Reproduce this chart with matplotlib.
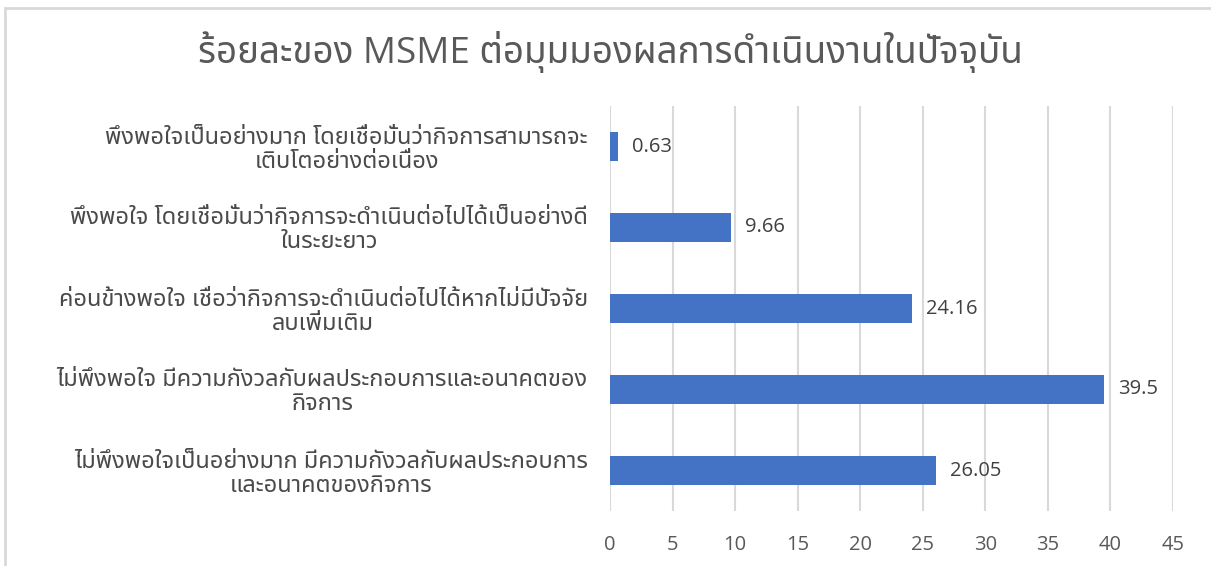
import matplotlib
matplotlib.use("Agg")
import matplotlib.pyplot as plt
from matplotlib.patches import Rectangle
import logging
logging.getLogger("matplotlib.font_manager").setLevel(logging.ERROR)

FONTS = ['Open Sans', 'Noto Sans Thai', 'IBM Plex Sans Thai', 'DejaVu Sans']
plt.rcParams['font.family'] = FONTS

title = "ร้อยละของ MSME ต่อมุมมองผลการดำเนินงานในปัจจุบัน"
categories = [
    "พึงพอใจเป็นอย่างมาก โดยเชื่อมั่นว่ากิจการสามารถจะ\nเติบโตอย่างต่อเนื่อง",
    "พึงพอใจ โดยเชื่อมั่นว่ากิจการจะดำเนินต่อไปได้เป็นอย่างดี\nในระยะยาว",
    "ค่อนข้างพอใจ เชื่อว่ากิจการจะดำเนินต่อไปได้หากไม่มีปัจจัย\nลบเพิ่มเติม",
    "ไม่พึงพอใจ มีความกังวลกับผลประกอบการและอนาคตของ\nกิจการ",
    "ไม่พึงพอใจเป็นอย่างมาก มีความกังวลกับผลประกอบการ\nและอนาคตของกิจการ",
]
values = [0.63, 9.66, 24.16, 39.5, 26.05]
xticks = [0, 5, 10, 15, 20, 25, 30, 35, 40, 45]

W, H = 1211, 566
fig = plt.figure(figsize=(W / 100, H / 100), dpi=100)
ax = fig.add_axes([610 / W, 1 - 511 / H, (1173 - 610) / W, (511 - 106) / H])

ypos = list(range(len(categories)))
bars = ax.barh(ypos, values, height=0.36, color='#4472C4', zorder=3)
ax.set_ylim(len(categories) - 0.5, -0.5)
ax.set_xlim(0, 45)
ax.set_xticks(xticks)
ax.set_xticklabels([str(t) for t in xticks])
ax.set_yticks(ypos)
ax.set_yticklabels(categories, multialignment='center', linespacing=1.0)

ax.grid(axis='x', color='#D9D9D9', linewidth=1.5, zorder=0)
for s in ax.spines.values():
    s.set_visible(False)
ax.tick_params(axis='x', length=0, pad=17, labelsize=14.5, labelcolor='#595959')
ax.tick_params(axis='y', length=0, pad=16, labelsize=17, labelcolor='#4a4a4a')

ax.bar_label(bars, labels=['%g' % v for v in values], padding=10,
             fontsize=14.5, color='#404040')

fig.text(610 / W, 1 - 52 / H, title, ha='center', va='center',
         fontsize=26.5, color='#595959')

fig.add_artist(Rectangle((5 / W, -0.05), 1.1, 1 - 8 / H + 0.05,
                         transform=fig.transFigure, fill=False,
                         edgecolor='#D9D9D9', linewidth=2))

fig.savefig("out.png", dpi=100)
